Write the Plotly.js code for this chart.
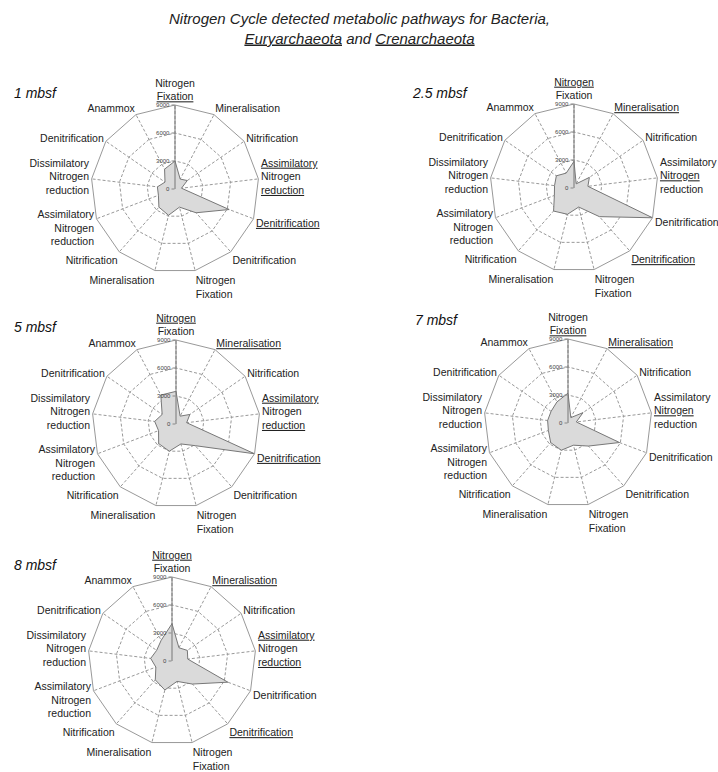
<!DOCTYPE html>
<html>
<head>
<meta charset="utf-8">
<script src="https://cdn.plot.ly/plotly-3.0.1.min.js"></script>
<style>
    html, body { margin: 0; padding: 0; background: #fff; }
    #chart { width: 718px; height: 772px; }
</style>
</head>
<body>
<div id="chart"></div>
<script>
// 13 spokes, clockwise from the top
const pathways = [
    'Nitrogen Fixation', 'Mineralisation', 'Nitrification', 'Assimilatory Nitrogen reduction',
    'Denitrification', 'Denitrification', 'Nitrogen Fixation', 'Mineralisation', 'Nitrification',
    'Assimilatory Nitrogen reduction', 'Dissimilatory Nitrogen reduction', 'Denitrification', 'Anammox',
];

const depths = ['1 mbsf', '2.5 mbsf', '5 mbsf', '7 mbsf', '8 mbsf'];

// detected hits per pathway
const hits1 = [3000, 1200, 1600, 700, 6200, 3400, 2000, 2900, 2600, 1900, 1900, 1300, 2400];
const hits25 = [2850, 500, 2000, 1500, 9000, 4100, 2100, 2900, 3300, 2250, 2100, 2300, 1800];
const hits5 = [3500, 950, 1800, 1150, 9000, 3100, 2200, 3000, 2800, 2000, 2300, 1800, 3500];
const hits7 = [3200, 650, 1950, 900, 5900, 3300, 2450, 3000, 2800, 2250, 2200, 2200, 2550];
const hits8 = [4000, 1600, 2000, 1700, 6400, 3300, 2250, 3200, 2700, 1850, 2300, 2000, 2500];

const radialTicks = [0, 3000, 6000, 9000];

// spoke labels, underlines differ per depth
const labels1 = ['Nitrogen<br><u>Fixation</u>', 'Mineralisation', 'Nitrification', '<u>Assimilatory</u><br>Nitrogen<br><u>reduction</u>',
    '<u>Denitrification</u>', 'Denitrification', 'Nitrogen<br>Fixation', 'Mineralisation', 'Nitrification',
    'Assimilatory<br>Nitrogen<br>reduction', 'Dissimilatory<br>Nitrogen<br>reduction', 'Denitrification', 'Anammox'];
const labels25 = ['<u>Nitrogen</u><br>Fixation', '<u>Mineralisation</u>', 'Nitrification', 'Assimilatory<br><u>Nitrogen</u><br>reduction',
    'Denitrification', '<u>Denitrification</u>', 'Nitrogen<br>Fixation', 'Mineralisation', 'Nitrification',
    'Assimilatory<br>Nitrogen<br>reduction', 'Dissimilatory<br>Nitrogen<br>reduction', 'Denitrification', 'Anammox'];
const labels5 = ['<u>Nitrogen</u><br>Fixation', '<u>Mineralisation</u>', 'Nitrification', '<u>Assimilatory</u><br>Nitrogen<br><u>reduction</u>',
    '<u>Denitrification</u>', 'Denitrification', 'Nitrogen<br>Fixation', 'Mineralisation', 'Nitrification',
    'Assimilatory<br>Nitrogen<br>reduction', 'Dissimilatory<br>Nitrogen<br>reduction', 'Denitrification', 'Anammox'];
const labels7 = ['Nitrogen<br><u>Fixation</u>', '<u>Mineralisation</u>', 'Nitrification', 'Assimilatory<br><u>Nitrogen</u><br>reduction',
    'Denitrification', 'Denitrification', 'Nitrogen<br>Fixation', 'Mineralisation', 'Nitrification',
    'Assimilatory<br>Nitrogen<br>reduction', 'Dissimilatory<br>Nitrogen<br>reduction', 'Denitrification', 'Anammox'];
const labels8 = ['<u>Nitrogen</u><br>Fixation', '<u>Mineralisation</u>', 'Nitrification', '<u>Assimilatory</u><br>Nitrogen<br><u>reduction</u>',
    'Denitrification', '<u>Denitrification</u>', 'Nitrogen<br>Fixation', 'Mineralisation', 'Nitrification',
    'Assimilatory<br>Nitrogen<br>reduction', 'Dissimilatory<br>Nitrogen<br>reduction', 'Denitrification', 'Anammox'];

const W = 718;
const H = 772;
const FONT = '"Liberation Sans", Arial, sans-serif';

// duplicated pathway names need unique category keys
const keys = pathways.map((name, i) => `${i}|${name}`);

const panels = [
    { name: 'polar', hits: hits1, labels: labels1, cx: 175, cy: 189, tx: 12, ty: 93 },
    { name: 'polar2', hits: hits25, labels: labels25, cx: 574, cy: 188, tx: 410, ty: 93 },
    { name: 'polar3', hits: hits5, labels: labels5, cx: 176, cy: 424, tx: 12, ty: 327 },
    { name: 'polar4', hits: hits7, labels: labels7, cx: 568, cy: 423, tx: 413, ty: 320 },
    { name: 'polar5', hits: hits8, labels: labels8, cx: 172, cy: 661, tx: 12, ty: 565 },
];
const R = 84;

const traces = panels.map((p) => ({
    type: 'scatterpolar',
    subplot: p.name,
    r: [...p.hits, p.hits[0]],
    theta: [...keys, keys[0]],
    mode: 'lines',
    fill: 'toself',
    fillcolor: '#dadada',
    line: { color: '#777', width: 1 },
    hoverinfo: 'skip',
}));

const layout = {
    width: W,
    height: H,
    margin: { l: 0, r: 0, t: 0, b: 0 },
    paper_bgcolor: '#fff',
    showlegend: false,
    font: { family: FONT, color: '#222', size: 10 },
    annotations: [
        {
            text: '<i>Nitrogen Cycle detected metabolic pathways for Bacteria,</i><br><i><u>Euryarchaeota</u> and <u>Crenarchaeota</u></i>',
            xref: 'paper', yref: 'paper', x: 0.5, y: 1 - 8 / H,
            xanchor: 'center', yanchor: 'top', showarrow: false,
            font: { family: FONT, size: 15, color: '#222' },
        },
        ...panels.map((p, i) => ({
            text: `<i>${depths[i]}</i>`,
            xref: 'paper', yref: 'paper', x: p.tx / W, y: 1 - p.ty / H,
            xanchor: 'left', yanchor: 'middle', showarrow: false,
            font: { family: FONT, size: 14, color: '#111' },
        })),
    ],
};

panels.forEach((p) => {
    layout[p.name] = {
        domain: {
            x: [(p.cx - R) / W, (p.cx + R) / W],
            y: [1 - (p.cy + R) / H, 1 - (p.cy - R) / H],
        },
        bgcolor: '#fff',
        gridshape: 'linear',
        radialaxis: {
            range: [0, 9000],
            tickmode: 'array',
            tickvals: radialTicks,
            angle: 90,
            side: 'counterclockwise',
            tickangle: 90,
            showline: true,
            linecolor: '#777',
            linewidth: 1,
            ticks: 'outside',
            ticklen: 3,
            tickcolor: '#888',
            tickfont: { family: FONT, size: 6, color: '#444' },
            gridcolor: '#999',
            griddash: '3px,2px',
        },
        angularaxis: {
            type: 'category',
            categoryarray: keys,
            direction: 'clockwise',
            rotation: 90,
            tickmode: 'array',
            tickvals: keys,
            ticktext: p.labels,
            ticks: '',
            showline: true,
            linecolor: '#999',
            gridcolor: '#999',
            griddash: '3px,2px',
            tickfont: { family: FONT, size: 10.5, color: '#222' },
        },
    };
});

Plotly.newPlot('chart', traces, layout, { displayModeBar: false, staticPlot: true });
</script>
</body>
</html>
